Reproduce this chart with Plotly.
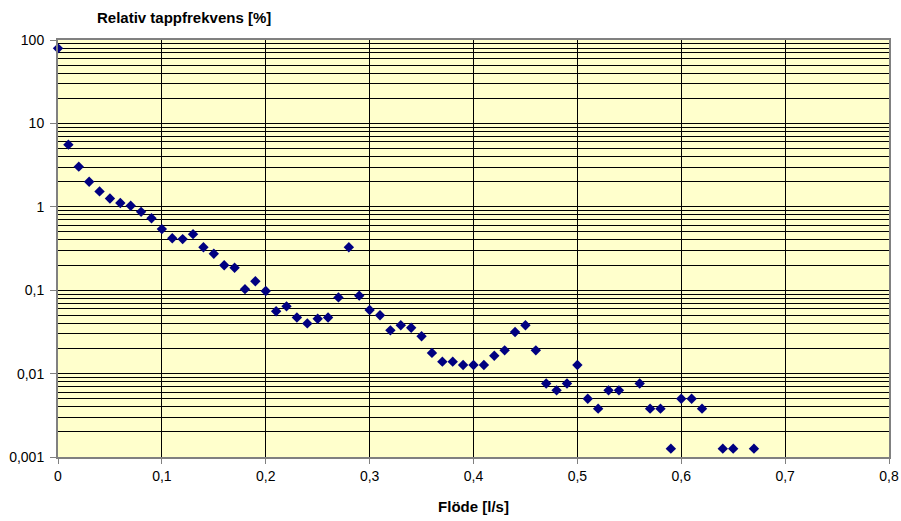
import plotly.graph_objects as go

# Flow rate [l/s] and relative tap frequency [%]
flow = [0.00, 0.01, 0.02, 0.03, 0.04, 0.05, 0.06, 0.07, 0.08, 0.09,
        0.10, 0.11, 0.12, 0.13, 0.14, 0.15, 0.16, 0.17, 0.18, 0.19,
        0.20, 0.21, 0.22, 0.23, 0.24, 0.25, 0.26, 0.27, 0.28, 0.29,
        0.30, 0.31, 0.32, 0.33, 0.34, 0.35, 0.36, 0.37, 0.38, 0.39,
        0.40, 0.41, 0.42, 0.43, 0.44, 0.45, 0.46, 0.47, 0.48, 0.49,
        0.50, 0.51, 0.52, 0.53, 0.54, 0.56, 0.57, 0.58, 0.59, 0.60,
        0.61, 0.62, 0.64, 0.65, 0.67]
freq = [79.4, 5.56, 3.03, 2.0, 1.53, 1.26, 1.11, 1.03, 0.87, 0.73,
        0.54, 0.42, 0.41, 0.47, 0.327, 0.274, 0.199, 0.186, 0.103, 0.128,
        0.098, 0.056, 0.064, 0.047, 0.040, 0.0455, 0.047, 0.082, 0.327, 0.086,
        0.058, 0.050, 0.033, 0.038, 0.0355, 0.028, 0.0177, 0.0139, 0.0139, 0.0127,
        0.0127, 0.0127, 0.0164, 0.019, 0.0315, 0.038, 0.019, 0.0076, 0.0063, 0.0076,
        0.0127, 0.0050, 0.0038, 0.0063, 0.0063, 0.0076, 0.0038, 0.0038, 0.00126, 0.0050,
        0.0050, 0.0038, 0.00126, 0.00126, 0.00126]

x_ticks = [0, 0.1, 0.2, 0.3, 0.4, 0.5, 0.6, 0.7, 0.8]
x_labels = ["0", "0,1", "0,2", "0,3", "0,4", "0,5", "0,6", "0,7", "0,8"]
y_ticks = [0.001, 0.01, 0.1, 1, 10, 100]
y_labels = ["0,001", "0,01", "0,1", "1", "10", "100"]

fig = go.Figure()
fig.add_trace(go.Scatter(
    x=flow, y=freq, mode="markers",
    marker=dict(symbol="diamond", size=8, color="#000080"),
    cliponaxis=False, showlegend=False,
))

font = dict(family="Liberation Sans, Arial, sans-serif", size=14, color="black")

fig.update_layout(
    width=901, height=521,
    margin=dict(l=58, r=12, t=40, b=64),
    paper_bgcolor="white",
    plot_bgcolor="#FFFFCC",
    font=font,
    xaxis=dict(
        range=[0, 0.8], tickvals=x_ticks, ticktext=x_labels,
        showgrid=True, gridcolor="black", gridwidth=1,
        showline=True, linecolor="#808080", linewidth=2, mirror=True,
        ticks="outside", ticklen=5, tickcolor="#808080",
        zeroline=False, automargin=False,
        title=dict(text="<b>Flöde [l/s]</b>", font=dict(size=15), standoff=19),
    ),
    yaxis=dict(
        type="log", range=[-3, 2], tickvals=y_ticks, ticktext=y_labels,
        showgrid=True, gridcolor="black", gridwidth=1,
        minor=dict(dtick="D1", showgrid=True, gridcolor="black", gridwidth=1, ticks=""),
        showline=True, linecolor="#808080", linewidth=2, mirror=True,
        ticks="outside", ticklen=6, tickcolor="#808080", ticklabelstandoff=3,
        zeroline=False, automargin=False,
    ),
    annotations=[dict(
        text="<b>Relativ tappfrekvens [%]</b>", xref="paper", yref="paper",
        x=(95 - 58) / 831, y=1, xanchor="left", yanchor="bottom", yshift=12,
        showarrow=False, font=dict(size=15),
    )],
)

fig.write_html("out.html")
